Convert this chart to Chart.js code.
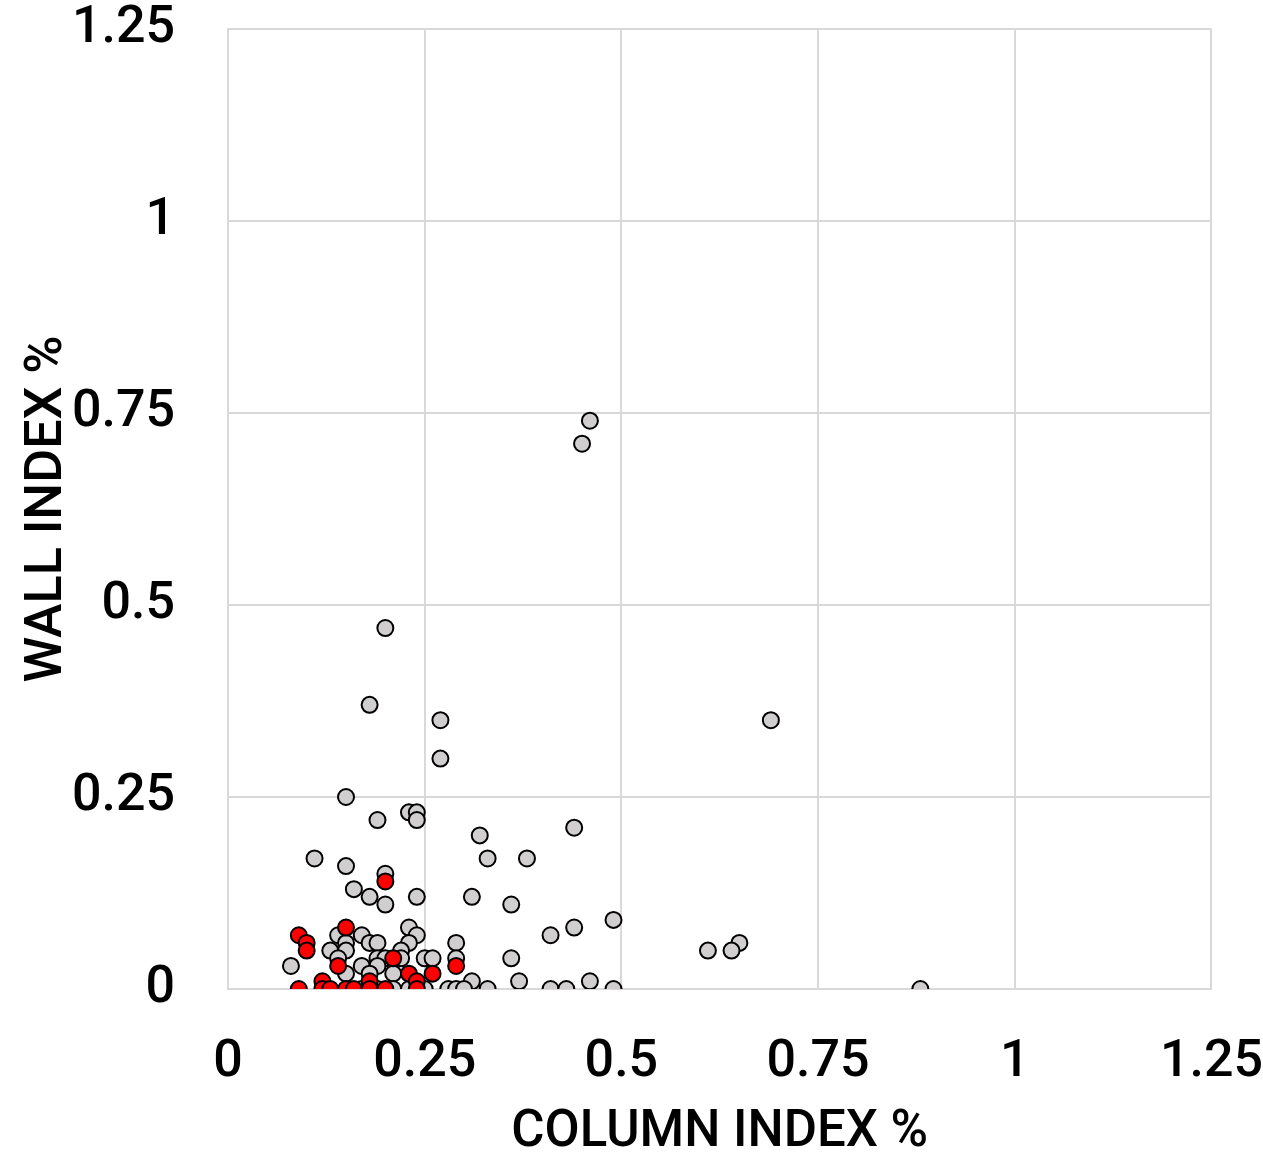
<!DOCTYPE html>
<html>
<head>
<meta charset="utf-8">
<script src="https://cdn.jsdelivr.net/npm/chart.js@4/dist/chart.umd.min.js"></script>
<style>
  html, body { margin: 0; padding: 0; background: #fff; }
  #wrap { width: 1263px; height: 1160px; }
</style>
</head>
<body>
<div id="wrap"><canvas id="myChart" width="1263" height="1160"></canvas></div>
<script>
// axis ticks
const tickValues = [0, 0.25, 0.5, 0.75, 1, 1.25];

// grey points (column index %, wall index %)
const greyX = [0.46, 0.45, 0.2, 0.18, 0.27, 0.69, 0.27, 0.15, 0.23, 0.24, 0.19, 0.24, 0.44, 0.32, 0.11, 0.33, 0.38, 0.15, 0.2, 0.16,
  0.18, 0.24, 0.31, 0.2, 0.36, 0.49, 0.23, 0.44, 0.14, 0.17, 0.24, 0.41, 0.15, 0.18, 0.19, 0.23, 0.29, 0.65, 0.13, 0.15,
  0.22, 0.61, 0.64, 0.14, 0.19, 0.2, 0.22, 0.25, 0.26, 0.29, 0.36, 0.08, 0.17, 0.19, 0.15, 0.18, 0.21, 0.31, 0.37, 0.46,
  0.17, 0.19, 0.21, 0.23, 0.25, 0.28, 0.29, 0.3, 0.33, 0.41, 0.43, 0.49, 0.88];
const greyY = [0.74, 0.71, 0.47, 0.37, 0.35, 0.35, 0.3, 0.25, 0.23, 0.23, 0.22, 0.22, 0.21, 0.2, 0.17, 0.17, 0.17, 0.16, 0.15, 0.13,
  0.12, 0.12, 0.12, 0.11, 0.11, 0.09, 0.08, 0.08, 0.07, 0.07, 0.07, 0.07, 0.06, 0.06, 0.06, 0.06, 0.06, 0.06, 0.05, 0.05,
  0.05, 0.05, 0.05, 0.04, 0.04, 0.04, 0.04, 0.04, 0.04, 0.04, 0.04, 0.03, 0.03, 0.03, 0.02, 0.02, 0.02, 0.01, 0.01, 0.01,
  0, 0, 0, 0, 0, 0, 0, 0, 0, 0, 0, 0, 0];

// red points
const redX = [0.09, 0.1, 0.1, 0.09, 0.12, 0.12, 0.13, 0.15, 0.14, 0.15, 0.16, 0.18, 0.18, 0.2, 0.21, 0.23, 0.24, 0.24, 0.26, 0.29, 0.2];
const redY = [0.07, 0.06, 0.05, 0, 0.01, 0, 0, 0.08, 0.03, 0, 0, 0.01, 0, 0, 0.04, 0.02, 0.01, 0, 0.02, 0.03, 0.14];

const toPoints = (xs, ys) => xs.map((x, i) => ({ x: x, y: ys[i] }));

const FONT = 'Roboto, "DejaVu Sans", sans-serif';
const gridColor = '#d9d9d9';

function fixTicks(scale) {
  scale.ticks = tickValues.map(v => ({ value: v }));
}

const ctx = document.getElementById('myChart').getContext('2d');
new Chart(ctx, {
  type: 'scatter',
  data: {
    datasets: [
      {
        label: 'red',
        data: toPoints(redX, redY),
        backgroundColor: '#ff0000',
        borderColor: '#000000',
        borderWidth: 2,
        pointRadius: 8,
        order: 0
      },
      {
        label: 'grey',
        data: toPoints(greyX, greyY),
        backgroundColor: '#d0cece',
        borderColor: '#000000',
        borderWidth: 2,
        pointRadius: 8,
        order: 1
      }
    ]
  },
  options: {
    responsive: false,
    animation: false,
    layout: { padding: { left: 0, right: 51, top: 29, bottom: 0 } },
    plugins: {
      legend: { display: false },
      tooltip: { enabled: false }
    },
    scales: {
      x: {
        type: 'linear',
        min: 0,
        max: 1.25,
        afterBuildTicks: fixTicks,
        afterFit: s => { s.height = 171; },
        grid: { color: gridColor, lineWidth: 2, drawTicks: true, tickLength: 48, tickColor: 'rgba(0,0,0,0)' },
        border: { color: gridColor, width: 2 },
        ticks: {
          color: '#000',
          padding: 0,
          maxRotation: 0,
          callback: v => String(v),
          font: { family: FONT, size: 52, weight: '500', lineHeight: 1 }
        },
        title: {
          display: true,
          text: 'COLUMN INDEX %',
          color: '#000',
          padding: { top: 0, bottom: 1 },
          font: { family: FONT, size: 51, weight: '500', lineHeight: 1 }
        }
      },
      y: {
        type: 'linear',
        min: 0,
        max: 1.25,
        afterBuildTicks: fixTicks,
        afterFit: s => { s.width = 228; },
        grid: { color: gridColor, lineWidth: 2, drawTicks: true, tickLength: 50, tickColor: 'rgba(0,0,0,0)' },
        border: { color: gridColor, width: 2 },
        ticks: {
          color: '#000',
          padding: 3,
          callback: v => String(v),
          font: { family: FONT, size: 52, weight: '500', lineHeight: 1 }
        },
        title: {
          display: true,
          text: 'WALL INDEX %',
          color: '#000',
          padding: { top: 22, bottom: 0 },
          font: { family: FONT, size: 52, weight: '500', lineHeight: 1 }
        }
      }
    }
  }
});
</script>
</body>
</html>
